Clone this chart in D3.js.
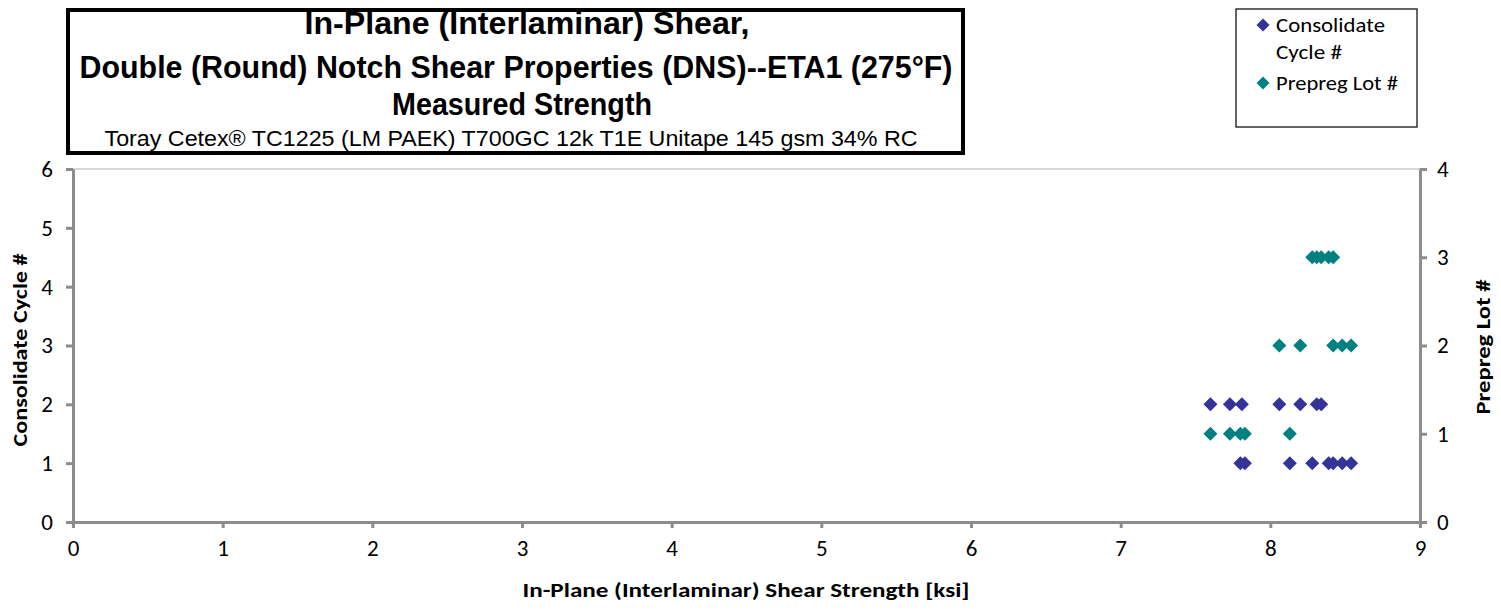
<!DOCTYPE html>
<html>
<head>
<meta charset="utf-8">
<script src="https://cdn.jsdelivr.net/npm/d3@7"></script>
<style>
  html, body { margin: 0; padding: 0; background: #fff; }
  svg { display: block; }
  .tick text { font-family: Carlito, Lato, 'Open Sans', sans-serif; font-size: 23px; }
</style>
</head>
<body>
<svg id="chart" width="1501" height="613"></svg>
<script>
// ---- Data ----
const titleLines = [
  "In-Plane (Interlaminar) Shear,",
  "Double (Round) Notch Shear Properties (DNS)--ETA1 (275°F)",
  "Measured Strength"
];
const subtitle = "Toray Cetex® TC1225 (LM PAEK) T700GC 12k T1E Unitape 145 gsm 34% RC";
const xTicks = [0, 1, 2, 3, 4, 5, 6, 7, 8, 9];
const yLeftTicks = [0, 1, 2, 3, 4, 5, 6];
const yRightTicks = [0, 1, 2, 3, 4];
const seriesNames = ["Consolidate Cycle #", "Prepreg Lot #"];
const seriesColors = ["#333399", "#008080"];

// Consolidate Cycle # series
const cycleStrength = [7.60, 7.73, 7.81, 8.06, 8.20, 8.31, 8.34,
                       7.80, 7.83, 8.13, 8.28, 8.39, 8.42, 8.48, 8.54];
const cycleNum      = [2, 2, 2, 2, 2, 2, 2,
                       1, 1, 1, 1, 1, 1, 1, 1];
// Prepreg Lot # series (secondary axis)
const lotStrength = [7.60, 7.73, 7.80, 7.83, 8.13,
                     8.06, 8.20, 8.42, 8.48, 8.54,
                     8.28, 8.31, 8.34, 8.39, 8.42];
const lotNum      = [1, 1, 1, 1, 1,
                     2, 2, 2, 2, 2,
                     3, 3, 3, 3, 3];

// ---- Layout ----
const svg = d3.select("#chart");
const plot = { left: 73, right: 1420, top: 169, bottom: 522 };

const x = d3.scaleLinear().domain([0, 9]).range([plot.left, plot.right]);
const yL = d3.scaleLinear().domain([0, 6]).range([plot.bottom, plot.top]);
const yR = d3.scaleLinear().domain([0, 4]).range([plot.bottom, plot.top]);

const axisColor = "#8c8c8c";

// plot area border
svg.append("rect")
  .attr("x", plot.left).attr("y", plot.top)
  .attr("width", plot.right - plot.left).attr("height", plot.bottom - plot.top)
  .attr("fill", "none").attr("stroke", "#bdbdbd").attr("stroke-width", 1.2);

function styleAxis(g) {
  g.attr("font-size", 23).attr("font-family", null);
  g.selectAll(".domain").attr("stroke", axisColor).attr("stroke-width", 3);
  g.selectAll(".tick line").attr("stroke", axisColor).attr("stroke-width", 3);
  g.selectAll(".tick text").attr("fill", "#000").attr("font-size", 23);
}

// bottom axis
svg.append("g")
  .attr("transform", `translate(0,${plot.bottom})`)
  .call(d3.axisBottom(x).tickValues(xTicks).tickFormat(d3.format("d"))
        .tickSize(6).tickSizeOuter(0).tickPadding(12))
  .call(styleAxis);

// left axis
svg.append("g")
  .attr("transform", `translate(${plot.left},0)`)
  .call(d3.axisLeft(yL).tickValues(yLeftTicks).tickFormat(d3.format("d"))
        .tickSize(7).tickSizeOuter(0).tickPadding(13))
  .call(styleAxis);

// right axis
svg.append("g")
  .attr("transform", `translate(${plot.right},0)`)
  .call(d3.axisRight(yR).tickValues(yRightTicks).tickFormat(d3.format("d"))
        .tickSize(7).tickSizeOuter(0).tickPadding(10))
  .call(styleAxis);

// ---- Points ----
const r = 7;
const diamond = `M0,${-r}L${r},0L0,${r}L${-r},0Z`;

svg.append("g").selectAll("path")
  .data(cycleStrength.map((v, i) => ({ x: v, y: cycleNum[i] })))
  .join("path")
  .attr("d", diamond)
  .attr("transform", d => `translate(${x(d.x)},${yL(d.y)})`)
  .attr("fill", seriesColors[0]);

svg.append("g").selectAll("path")
  .data(lotStrength.map((v, i) => ({ x: v, y: lotNum[i] })))
  .join("path")
  .attr("d", diamond)
  .attr("transform", d => `translate(${x(d.x)},${yR(d.y)})`)
  .attr("fill", seriesColors[1]);

// ---- Axis titles ----
const titleFont = "Carlito, Lato, 'Open Sans', sans-serif";
svg.append("text")
  .attr("x", 746).attr("y", 597)
  .attr("text-anchor", "middle")
  .attr("textLength", 447).attr("lengthAdjust", "spacingAndGlyphs")
  .style("font-family", titleFont).style("font-size", "20px").style("font-weight", "bold")
  .text("In-Plane (Interlaminar) Shear Strength [ksi]");

svg.append("text")
  .attr("transform", `translate(27,350) rotate(-90)`)
  .attr("text-anchor", "middle")
  .attr("textLength", 193).attr("lengthAdjust", "spacingAndGlyphs")
  .style("font-family", titleFont).style("font-size", "20px").style("font-weight", "bold")
  .text("Consolidate Cycle #");

svg.append("text")
  .attr("transform", `translate(1490,347) rotate(-90)`)
  .attr("text-anchor", "middle")
  .attr("textLength", 135).attr("lengthAdjust", "spacingAndGlyphs")
  .style("font-family", titleFont).style("font-size", "20px").style("font-weight", "bold")
  .text("Prepreg Lot #");

// ---- Title box ----
svg.append("rect")
  .attr("x", 68).attr("y", 10).attr("width", 895).attr("height", 143)
  .attr("fill", "#fff").attr("stroke", "#000").attr("stroke-width", 4);

const tFont = "'Liberation Sans Narrow', 'Liberation Sans', Arial, sans-serif";
const titleX = [527, 516, 522];
const titleY = [34, 78, 115];
const titleW = [445, 873, 260];
titleLines.forEach((t, i) => {
  svg.append("text")
    .attr("x", titleX[i]).attr("y", titleY[i])
    .attr("text-anchor", "middle")
    .attr("textLength", titleW[i]).attr("lengthAdjust", "spacingAndGlyphs")
    .style("font-family", tFont).style("font-size", "31px").style("font-weight", "bold")
    .text(t);
});
svg.append("text")
  .attr("x", 511).attr("y", 146)
  .attr("text-anchor", "middle")
  .attr("textLength", 813).attr("lengthAdjust", "spacingAndGlyphs")
  .style("font-family", tFont).style("font-size", "22px")
  .text(subtitle);

// ---- Legend ----
svg.append("rect")
  .attr("x", 1236).attr("y", 9).attr("width", 181).attr("height", 118)
  .attr("fill", "#fff").attr("stroke", "#000").attr("stroke-width", 1.2);

const legFont = "Carlito, Lato, 'Open Sans', sans-serif";
const legendRows = [
  { lines: ["Consolidate", "Cycle #"], widths: [109, 66], y: 25, color: seriesColors[0] },
  { lines: ["Prepreg Lot #"], widths: [122], y: 83, color: seriesColors[1] }
];
legendRows.forEach(row => {
  svg.append("path").attr("d", `M0,-6.5L6.5,0L0,6.5L-6.5,0Z`)
    .attr("transform", `translate(1263,${row.y})`).attr("fill", row.color);
  row.lines.forEach((ln, j) => {
    svg.append("text")
      .attr("x", 1276).attr("y", row.y + 7 + j * 27)
      .attr("textLength", row.widths[j]).attr("lengthAdjust", "spacingAndGlyphs")
      .style("font-family", legFont).style("font-size", "21px")
      .text(ln);
  });
});
</script>
</body>
</html>
